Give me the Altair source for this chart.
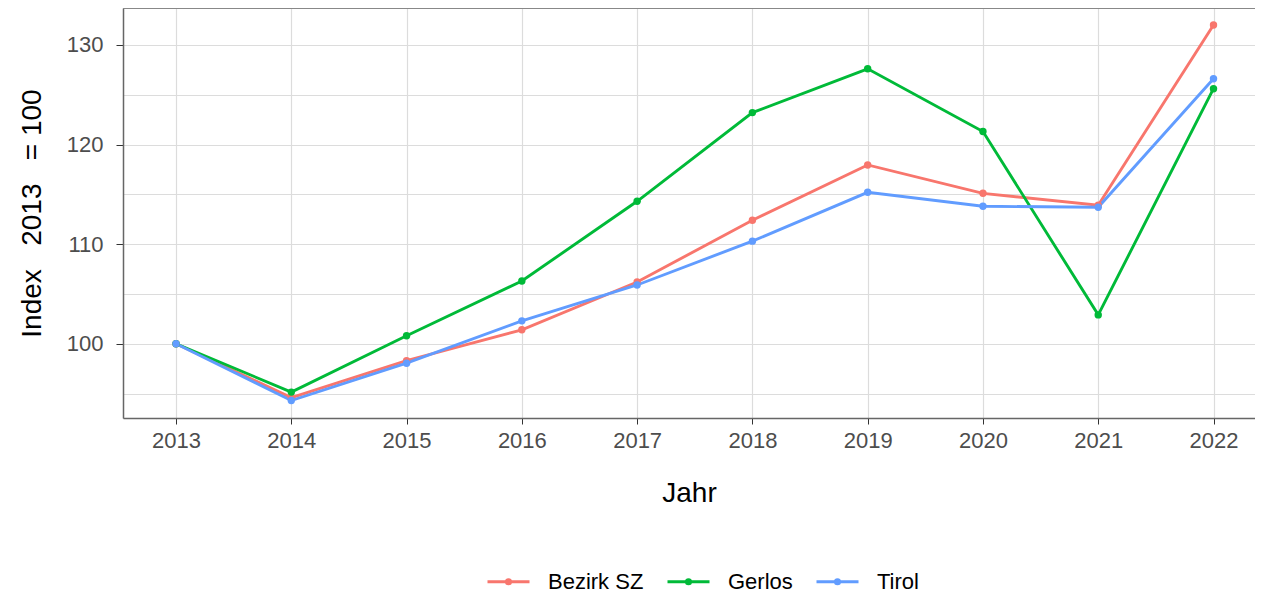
import altair as alt
import pandas as pd

years = [2013, 2014, 2015, 2016, 2017, 2018, 2019, 2020, 2021, 2022]
bezirk_sz = [100.0, 94.6, 98.3, 101.4, 106.2, 112.4, 117.95, 115.1, 113.9, 132.0]
gerlos = [100.0, 95.15, 100.8, 106.3, 114.3, 123.2, 127.6, 121.3, 102.9, 125.6]
tirol = [100.0, 94.3, 98.05, 102.3, 105.9, 110.3, 115.2, 113.8, 113.7, 126.6]
series_names = ["Bezirk SZ", "Gerlos", "Tirol"]
series_colors = ["#F8766D", "#00BA38", "#619CFF"]
y_grid_values = [95, 100, 105, 110, 115, 120, 125, 130]

rows = []
for name, vals in zip(series_names, [bezirk_sz, gerlos, tirol]):
    for yr, v in zip(years, vals):
        rows.append({"Jahr": yr, "Index": v, "Region": name})
df = pd.DataFrame(rows)

W, H = 1132, 410
PAD_LEFT = 115
FONT = "Liberation Sans"

color_scale = alt.Scale(domain=series_names, range=series_colors)

color_line = alt.Color(
    "Region:N",
    scale=color_scale,
    legend=alt.Legend(
        title=None,
        orient="none",
        legendX=478 - PAD_LEFT,
        legendY=551,
        direction="horizontal",
        symbolType="M-1,0H1M-0.1,0A0.1,0.1 0 1,1 0.1,0A0.1,0.1 0 1,1 -0.1,0Z",
        symbolSize=1764,
        symbolStrokeWidth=3,
        labelFontSize=22,
        labelFont=FONT,
        labelColor="#000000",
        labelOffset=17,
        columnPadding=17,
    ),
)
color_point = alt.Color("Region:N", scale=color_scale, legend=None)

x = alt.X(
    "Jahr:Q",
    scale=alt.Scale(domain=[2012.54, 2022.36], nice=False, zero=False),
    axis=alt.Axis(
        values=years,
        format="d",
        title="Jahr",
        labelFontSize=22,
        labelColor="#4d4d4d",
        labelFont=FONT,
        labelPadding=6,
        tickSize=6,
        tickColor="#333333",
        domainColor="#666666",
        domainWidth=1.5,
        gridColor="#dcdcdc",
        gridWidth=1.2,
        titleFontSize=28,
        titleFont=FONT,
        titleFontWeight="normal",
        titleColor="#000000",
        titlePadding=28,
    ),
)

y = alt.Y(
    "Index:Q",
    scale=alt.Scale(domain=[92.55, 133.7], nice=False, zero=False),
    axis=alt.Axis(
        values=y_grid_values,
        labelExpr="datum.value % 10 === 0 ? datum.label : ''",
        title="Index\u00a0\u00a0\u00a02013\u00a0\u00a0\u00a0= 100",
        labelFontSize=22,
        labelColor="#4d4d4d",
        labelFont=FONT,
        labelPadding=13,
        tickSize=7,
        tickColor={"condition": {"test": "datum.value % 10 === 0", "value": "#333333"}, "value": "transparent"},
        domainColor="#666666",
        domainWidth=1.5,
        gridColor="#dcdcdc",
        gridWidth=1.2,
        titleFontSize=28,
        titleFont=FONT,
        titleFontWeight="normal",
        titleColor="#000000",
        titlePadding=20,
    ),
)

base = alt.Chart(df)
lines = base.mark_line(strokeWidth=2.9).encode(x=x, y=y, color=color_line)
points = base.mark_point(filled=True, size=55, opacity=1).encode(x=x, y=y, color=color_point)
top_border = alt.Chart(df).mark_rule(color="#888888", strokeWidth=1.5).encode(
    x=alt.value(0), x2=alt.value(W), y=alt.value(0)
)

chart = (
    alt.layer(lines, points, top_border)
    .properties(
        width=W,
        height=H,
        autosize=alt.AutoSizeParams(type="none"),
        padding={"left": PAD_LEFT, "top": 0, "right": 0, "bottom": 176},
    )
    .configure_view(stroke=None)
    .configure(background="white")
)

chart.save("out.html", embed_options={"renderer": "svg", "actions": False})
